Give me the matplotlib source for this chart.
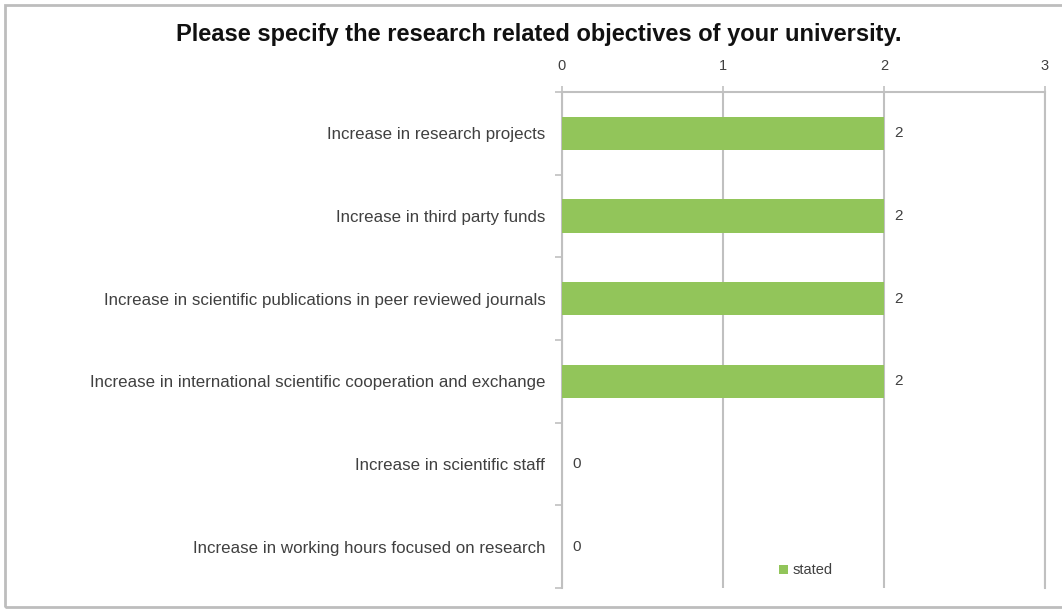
import matplotlib
matplotlib.use("Agg")
import matplotlib.pyplot as plt
from matplotlib.patches import Rectangle

plt.rcParams['font.family'] = ['Liberation Sans', 'DejaVu Sans']

title = "Please specify the research related objectives of your university."
categories = [
    "Increase in research projects",
    "Increase in third party funds",
    "Increase in scientific publications in peer reviewed journals",
    "Increase in international scientific cooperation and exchange",
    "Increase in scientific staff",
    "Increase in working hours focused on research",
]
values = [2, 2, 2, 2, 0, 0]
series_name = "stated"
xticks = [0, 1, 2, 3]

bar_color = "#92c55a"
grid_color = "#c0c0c0"
text_color = "#404040"

fig = plt.figure(figsize=(10.62, 6.10), dpi=100)
fig.patch.set_facecolor("white")

# outer frame (right edge runs off the image)
fig.patches.append(Rectangle((5 / 1062, 3 / 610), 1070 / 1062, 602 / 610,
                             transform=fig.transFigure, fill=False,
                             edgecolor="#bdbdbd", linewidth=2.0))

ax = fig.add_axes([562 / 1062, 1 - 588 / 610, (1045 - 562) / 1062, (588 - 92) / 610])
y = list(range(len(categories)))
ax.barh(y, values, height=0.4, color=bar_color, zorder=3, label=series_name)
ax.set_xlim(0, 3)
ax.set_ylim(len(categories) - 0.5, -0.5)

ax.set_yticks(y)
ax.set_yticklabels(categories, fontsize=12.2, color=text_color)
ax.set_yticks([i - 0.5 for i in range(len(categories) + 1)], minor=True)
ax.tick_params(axis='y', which='major', length=0, pad=12)
ax.tick_params(axis='y', which='minor', length=5, color=grid_color, width=1.2)

ax.set_xticks(xticks)
ax.xaxis.tick_top()
ax.tick_params(axis='x', which='major', length=4, color=grid_color, width=1.2,
               labelsize=10.5, labelcolor=text_color, pad=10)

ax.grid(axis='x', color=grid_color, linewidth=1.5, zorder=0)
ax.spines['bottom'].set_visible(False)
for s in ['left', 'top', 'right']:
    ax.spines[s].set_color(grid_color)
    ax.spines[s].set_linewidth(1.5)

for yi, v in zip(y, values):
    ax.annotate(str(v), xy=(v, yi), xytext=(7.5, 0), textcoords='offset points',
                va='center', ha='left', fontsize=11, color=text_color)

leg = ax.legend(loc='lower center', bbox_to_anchor=(0.505, -0.005), frameon=False,
                fontsize=10.5, handlelength=0.6, handleheight=0.6, handletextpad=0.3,
                labelcolor=text_color)

fig.text(539 / 1062, 1 - 34 / 610, title, ha='center', va='center',
         fontsize=17, fontweight='bold', color='#111111')

fig.savefig("out.png", dpi=100)
